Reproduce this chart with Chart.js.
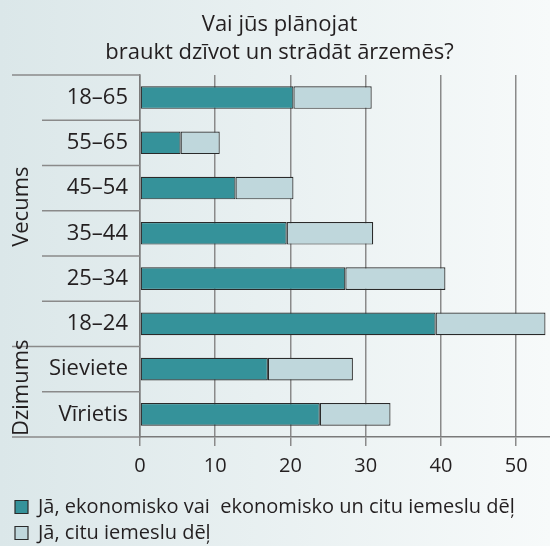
<!DOCTYPE html>
<html>
<head>
<meta charset="utf-8">
<script src="https://cdn.jsdelivr.net/npm/chart.js@4"></script>
<style>
  html, body { margin: 0; padding: 0; overflow: hidden; }
  body { background: linear-gradient(to right, #dbe7e9, #f7fafa); width: 550px; height: 546px; }
  #wrap { width: 550px; height: 553px; }
</style>
</head>
<body>
<div id="wrap"><canvas id="surveyChart"></canvas></div>
<script>
// Data
const titleLines = ['Vai jūs plānojat', 'braukt dzīvot un strādāt ārzemēs?'];
const categories = ['18–65', '55–65', '45–54', '35–44', '25–34', '18–24', 'Sieviete', 'Vīrietis'];
const econReasons = [20.4, 5.4, 12.7, 19.5, 27.3, 39.3, 17.0, 23.9];
const otherReasons = [10.4, 5.2, 7.7, 11.5, 13.3, 14.6, 11.3, 9.4];
const seriesNames = ['Jā, ekonomisko vai  ekonomisko un citu iemeslu dēļ', 'Jā, citu iemeslu dēļ'];
const xTickValues = [0, 10, 20, 30, 40, 50];
const groups = [
    { name: 'Vecums', from: 0, to: 5 },
    { name: 'Dzimums', from: 6, to: 7 }
];

const textColor = '#231f20';
const lineColor = '#8a8a8a';

// Row separators in the label area + rotated group names
const groupLabels = {
    id: 'groupLabels',
    afterDraw(chart) {
        const ctx = chart.ctx;
        const y = chart.scales.y;
        const area = chart.chartArea;
        const rowH = Math.abs(y.getPixelForValue(1) - y.getPixelForValue(0));
        ctx.save();
        ctx.strokeStyle = lineColor;
        ctx.lineWidth = 1.5;
        const groupEdges = [0];
        groups.forEach(g => groupEdges.push(g.to + 1));
        for (let i = 0; i <= categories.length; i++) {
            const py = y.getPixelForValue(0) - rowH / 2 + i * rowH;
            const startX = groupEdges.includes(i) ? 12 : 42;
            ctx.beginPath();
            ctx.moveTo(startX, py);
            ctx.lineTo(area.left, py);
            ctx.stroke();
        }
        ctx.fillStyle = textColor;
        ctx.font = '22px "Open Sans"';
        ctx.textAlign = 'center';
        ctx.textBaseline = 'middle';
        groups.forEach(g => {
            const cy = (y.getPixelForValue(g.from) + y.getPixelForValue(g.to)) / 2 - 4;
            ctx.save();
            ctx.translate(22, cy);
            ctx.rotate(-Math.PI / 2);
            ctx.fillText(g.name, 0, 0);
            ctx.restore();
        });
        ctx.restore();
    }
};

const ctx = document.getElementById('surveyChart').getContext('2d');
const surveyChart = new Chart(ctx, {
    type: 'bar',
    data: {
        labels: categories,
        datasets: [{
            label: seriesNames[0],
            data: econReasons,
            backgroundColor: '#35929a',
            borderColor: '#2a2a2a',
            borderWidth: 1.2,
            borderSkipped: false
        }, {
            label: seriesNames[1],
            data: otherReasons,
            backgroundColor: '#bfd7dc',
            borderColor: '#2a2a2a',
            borderWidth: 1.2,
            borderSkipped: false
        }]
    },
    options: {
        indexAxis: 'y',
        responsive: true,
        maintainAspectRatio: false,
        animation: false,
        datasets: { bar: { barPercentage: 0.5, categoryPercentage: 1 } },
        layout: { padding: { left: 9, right: 0, top: 0, bottom: 0 } },
        scales: {
            x: {
                stacked: true,
                min: 0,
                max: 54.5,
                afterBuildTicks: scale => {
                    scale.ticks = xTickValues.map(v => ({ value: v }));
                },
                afterFit: scale => { scale.height = 54; },
                ticks: {
                    padding: 8,
                    color: textColor,
                    font: { family: 'Open Sans', size: 20 }
                },
                grid: { color: lineColor, lineWidth: 1.5, tickLength: 9 },
                border: { color: '#7a7a7a', width: 1.5 }
            },
            y: {
                stacked: true,
                afterFit: scale => { scale.width = 131; },
                ticks: {
                    padding: 4,
                    color: textColor,
                    font: { family: 'Open Sans', size: 22 }
                },
                grid: { display: false },
                border: { color: '#7a7a7a', width: 1.5 }
            }
        },
        plugins: {
            title: {
                display: true,
                text: titleLines,
                color: textColor,
                font: { family: 'Open Sans', size: 22, weight: 'normal', lineHeight: 1.27 },
                padding: { top: 11, bottom: 8 }
            },
            legend: {
                position: 'bottom',
                align: 'start',
                labels: {
                    boxWidth: 13,
                    boxHeight: 13,
                    padding: 6,
                    color: textColor,
                    font: { family: 'Open Sans', size: 20 }
                }
            },
            tooltip: { enabled: false }
        }
    },
    plugins: [groupLabels]
});
</script>
</body>
</html>
